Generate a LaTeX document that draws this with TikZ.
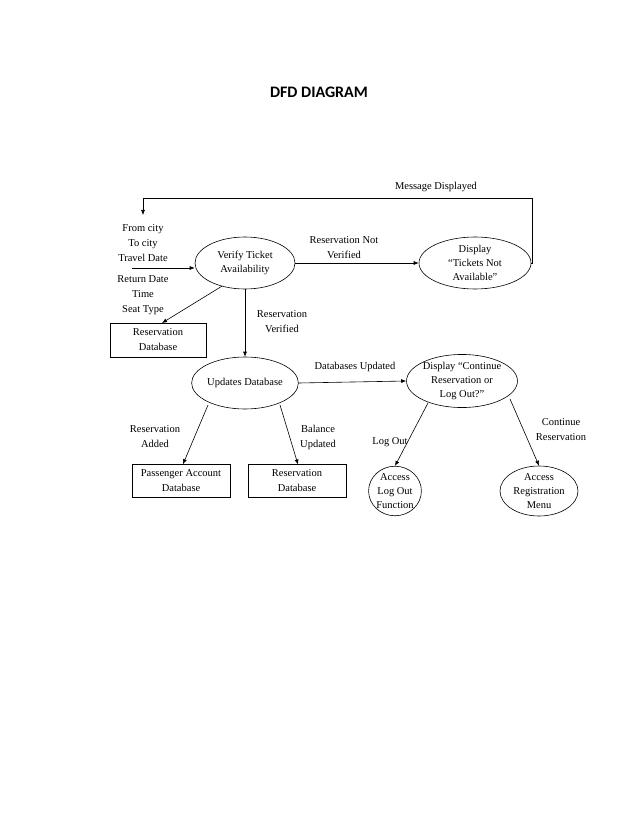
\documentclass[tikz,border=0pt]{standalone}
\usepackage{fontspec}
\setmainfont{Liberation Serif}
\newfontfamily\titlefont{Carlito}
\usetikzlibrary{shapes.geometric,arrows.meta}
\begin{document}
\begin{tikzpicture}[x=1pt,y=-1pt,
  txt/.style={font=\fontsize{10.5}{15}\selectfont,align=center,inner sep=0pt},
  proc/.style={draw,ellipse,inner sep=0pt,font=\fontsize{10.5}{14}\selectfont,align=center},
  store/.style={draw,rectangle,inner sep=0pt,font=\fontsize{10.5}{15}\selectfont,align=center},
  flow/.style={-{Latex[length=5pt,width=4pt]},line width=0.6pt},
  line width=0.6pt]
\useasboundingbox (0,0) rectangle (638,826);
\node[font=\titlefont\bfseries\fontsize{16}{18}\selectfont] (title) at (319,92) {DFD DIAGRAM};
\node[proc,minimum width=100,minimum height=52] (verify) at (245,263) {Verify Ticket\\Availability};
\node[proc,minimum width=112,minimum height=52] (tna) at (475,263) {Display\\``Tickets Not\\Available''};
\node[txt] (in1) at (143,243) {From city\\To city\\Travel Date};
\node[txt] (in2) at (143,295) {Return Date\\Time\\Seat Type};
\coordinate (instart) at (132,268);
\node[store,minimum width=96,minimum height=34] (rdb1) at (158,340) {Reservation\\Database};
\node[proc,minimum width=100,minimum height=52] (upd) at (245,383) {Updates Database};
\node[proc,minimum width=100,minimum height=50] (cont) at (462,381) {Display ``Continue\\Reservation or\\Log Out?''};
\node[store,minimum width=98,minimum height=33] (pdb) at (181,481) {Passenger Account\\Database};
\node[store,minimum width=98,minimum height=33] (rdb2) at (297,481) {Reservation\\Database};
\node[proc,minimum width=50,minimum height=46] (logout) at (395,491) {Access\\Log Out\\Function};
\node[proc,minimum width=78,minimum height=50] (reg) at (539,491) {Access\\Registration\\Menu};
\coordinate (msgtop) at (143,215);
% flows
\draw[flow] (instart) -- (verify.west |- instart);
\draw[flow] (verify.225) -- (162,323);
\draw[flow] (verify.south) -- (upd.north);
\node[txt] (lrv) at (282,322) {Reservation\\Verified};
\draw[flow] (verify.east) -- (tna.west);
\node[txt] (lrnv) at (344,248) {Reservation Not\\Verified};
\draw[flow] (tna.east) -- ++(1,0) |- (143,198) -- (msgtop);
\node[txt] (lmd) at (436,187) {Message Displayed};
\draw[flow] (upd.east) -- (cont.west);
\node[txt] (ldu) at (355,367) {Databases Updated};
\draw[flow] (208,405) -- (pdb.north -| 183,0);
\node[txt] (lra) at (155,437) {Reservation\\Added};
\draw[flow] (280,405) -- (298,464.5);
\node[txt] (lbu) at (318,437) {Balance\\Updated};
\draw[flow] (428,403) -- (logout.north);
\node[txt] (llo) at (390,442) {Log Out};
\draw[flow] (510,399) -- (reg.north);
\node[txt] (lcr) at (561,430) {Continue\\Reservation};
\end{tikzpicture}
\end{document}
